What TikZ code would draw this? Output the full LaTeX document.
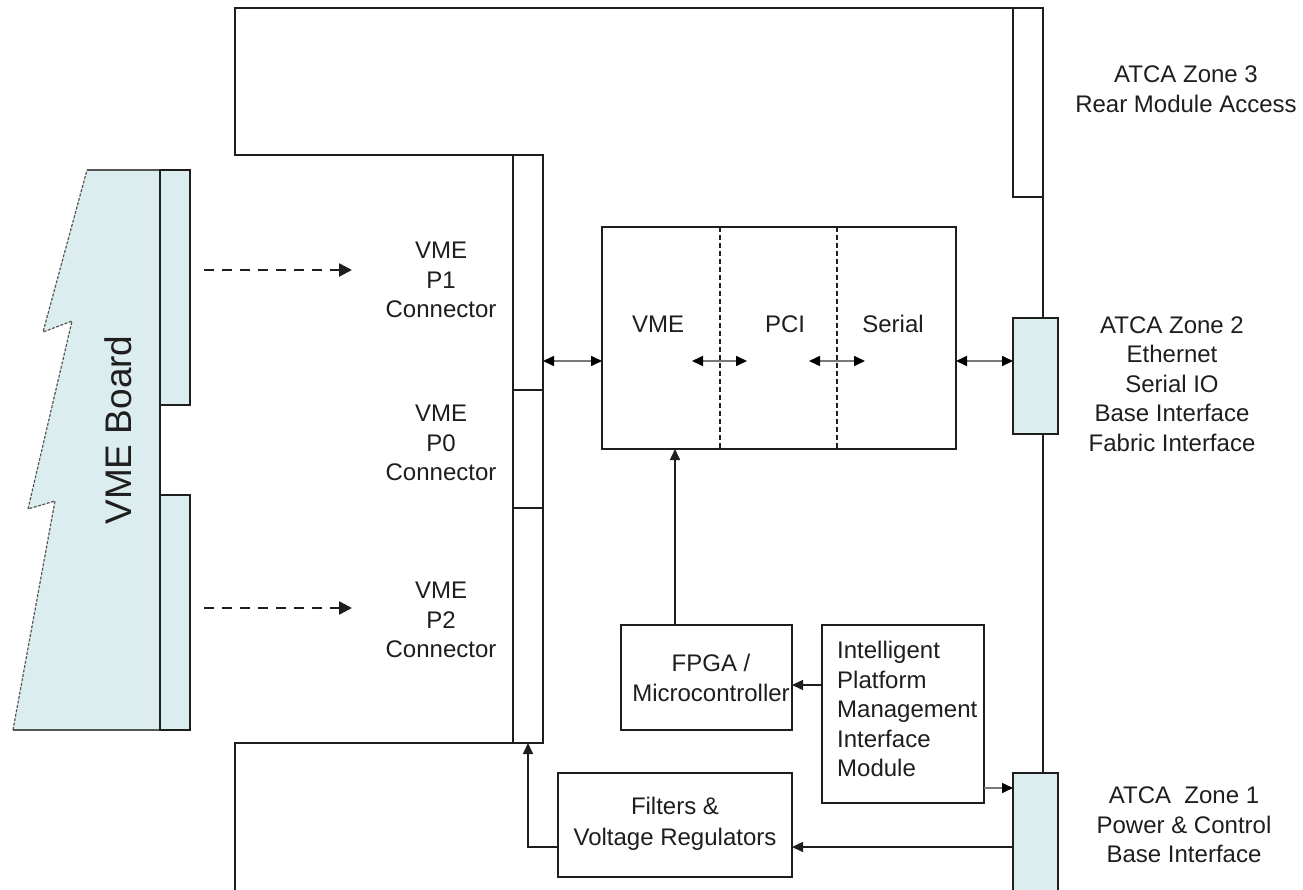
\documentclass[tikz,border=0pt]{standalone}
\usepackage{fontspec}
\setmainfont{Liberation Sans}
\usetikzlibrary{arrows.meta}
\definecolor{boardcyan}{RGB}{220,237,240}
\definecolor{ink}{RGB}{30,30,30}
\definecolor{arrgrey}{RGB}{120,120,120}
\tikzset{
  lbl/.style={font=\fontsize{24}{29.5}\selectfont, text=ink, align=center, inner sep=0pt},
  box/.style={draw=ink, line width=1.8pt, inner sep=0pt, outer sep=0pt, fill=white},
  cyanbox/.style={box, fill=boardcyan},
  wire/.style={draw=ink, line width=1.8pt},
  arr/.style={draw=ink, line width=1.6pt, -{Triangle[length=11pt,width=10pt]}},
  greyarr/.style={draw=arrgrey, line width=1.6pt, -{Triangle[length=11pt,width=10pt,color=black]}},
  dblarr/.style={draw=arrgrey, line width=1.6pt, {Triangle[length=11pt,width=10pt,color=black]}-{Triangle[length=11pt,width=10pt,color=black]}},
  dasharr/.style={draw=ink, line width=2.4pt, dash pattern=on 10pt off 8pt, -{Triangle[length=13pt,width=13pt]}},
  divider/.style={draw=ink, line width=1.3pt, dash pattern=on 5pt off 3pt},
}
\begin{document}
\begin{tikzpicture}[x=1pt,y=-1pt]
\useasboundingbox[fill=white] (0,0) rectangle (1303,890);

% ---- VME board ----
\fill[boardcyan] (87,170) -- (160,170) -- (160,730) -- (13,730) -- (55,501) -- (28,509) -- (72,321) -- (43,332) -- cycle;
\draw[draw=ink!75, line width=1.2pt] (87,170) -- (160,170);
\draw[draw=ink!75, line width=1.2pt] (13,730) -- (160,730);
\draw[draw=ink!75, line width=1.2pt, dash pattern=on 3pt off 1.5pt] (13,730) -- (55,501) -- (28,509) -- (72,321) -- (43,332) -- (87,170);
\draw[wire] (160,170) -- (160,730);
\node[cyanbox, minimum width=30pt, minimum height=235pt] (vs1) at (175,287.5) {};
\node[cyanbox, minimum width=30pt, minimum height=235pt] (vs2) at (175,612.5) {};
\node[rotate=90, font=\fontsize{37}{37}\selectfont, text=ink, inner sep=0pt] (vmeb) at (118,430) {VME Board};

% ---- VME connector strip ----
\node[box, minimum width=30pt, minimum height=235pt] (p1) at (528,272.5) {};
\node[box, minimum width=30pt, minimum height=118pt] (p0) at (528,449) {};
\node[box, minimum width=30pt, minimum height=235pt] (p2) at (528,625.5) {};

\node[lbl] (p1l) at (441,280) {VME\\P1\\Connector};
\node[lbl] (p0l) at (441,443) {VME\\P0\\Connector};
\node[lbl] (p2l) at (441,620) {VME\\P2\\Connector};

% dashed insertion arrows
\coordinate (t1) at (352,270);
\coordinate (t2) at (352,608);
\draw[dasharr] ([xshift=14pt]vs1.east |- t1) -- (t1);
\draw[dasharr] ([xshift=14pt]vs2.east |- t2) -- (t2);

% ---- ATCA zones ----
\node[box, minimum width=30pt, minimum height=189pt] (z3) at (1028,102.5) {};
\node[cyanbox, minimum width=45pt, minimum height=116pt] (z2) at (1035.5,376) {};
\node[fill=boardcyan, inner sep=0pt, outer sep=0pt, minimum width=45pt, minimum height=117pt] (z1) at (1035.5,831.5) {};
\draw[wire] (z1.south west) -- (z1.north west) -- (z1.north east) -- (z1.south east);

\node[lbl] (z3l) at (1186,89) {ATCA Zone 3\\Rear Module Access};
\node[lbl] (z2l) at (1172,384) {ATCA Zone 2\\Ethernet\\Serial IO\\Base Interface\\Fabric Interface};
\node[lbl] (z1l) at (1184,825) {ATCA\ \ Zone 1\\Power \& Control\\Base Interface};

% ---- card outline ----
\draw[wire] (p1.north west) -- (235,155) -- (235,8) -- (z3.north west);
\draw[wire] (p2.south west) -- (235,743) -- (235,890);
\draw[wire] (z3.south east) -- (z3.east |- z2.north);
\draw[wire] (z3.east |- z2.south) -- (z3.east |- z1.north);

% ---- central bridge box ----
\node[box, minimum width=354pt, minimum height=222pt] (cbox) at (779,338) {};
\coordinate (d1) at (720,0);
\coordinate (d2) at (837,0);
\draw[divider] (d1 |- cbox.north) -- (d1 |- cbox.south);
\draw[divider] (d2 |- cbox.north) -- (d2 |- cbox.south);
\node[lbl] (vmet) at (658,324) {VME};
\node[lbl] (pcit) at (785,324) {PCI};
\node[lbl] (sert) at (893,324) {Serial};
\coordinate (a1) at (692,361);
\coordinate (a2) at (747,361);
\coordinate (a3) at (809,361);
\coordinate (a4) at (865,361);
\draw[dblarr] (a1) -- (a2);
\draw[dblarr] (a3) -- (a4);
\coordinate (yD) at (0,361);
\draw[dblarr] (p1.east |- yD) -- (cbox.west |- yD);
\draw[dblarr] (cbox.east |- yD) -- (z2.west |- yD);

% ---- FPGA ----
\node[box, minimum width=171pt, minimum height=105pt] (fpga) at (706.5,677.5) {};
\node[lbl] (fpgat) at (711,678) {FPGA /\\Microcontroller};
\coordinate (fx) at (675,0);
\draw[arr] (fx |- fpga.north) -- (fx |- cbox.south);

% ---- IPMI ----
\node[box, minimum width=162pt, minimum height=178pt] (ipmi) at (903,714) {};
\node[lbl, align=left, anchor=west] (ipmit) at (837,709) {Intelligent\\Platform\\Management\\Interface\\Module};
\coordinate (yA) at (0,685);
\coordinate (yB) at (0,788);
\draw[arr] (ipmi.west |- yA) -- (fpga.east |- yA);
\draw[greyarr] (ipmi.east |- yB) -- (z1.west |- yB);

% ---- Filters ----
\node[box, minimum width=234pt, minimum height=104pt] (filt) at (675,825) {};
\node[lbl, font=\fontsize{24}{31}\selectfont] (filtt) at (675,824) {Filters \&\\Voltage Regulators};
\coordinate (yC) at (0,847);
\draw[arr] (z1.west |- yC) -- (filt.east |- yC);
\draw[arr] (filt.west |- yC) -| (p2.south);
\end{tikzpicture}
\end{document}
